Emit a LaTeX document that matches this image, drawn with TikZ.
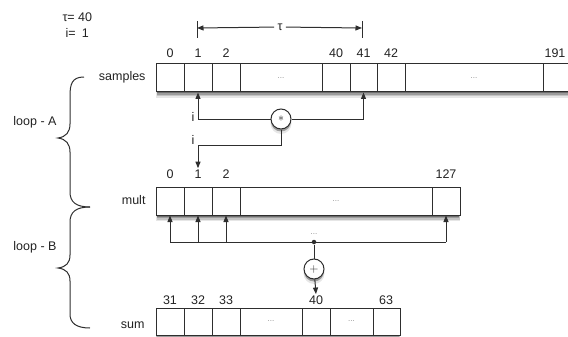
\documentclass[tikz,border=0pt]{standalone}
\usepackage{fontspec}
\setmainfont{Liberation Sans}
\usetikzlibrary{arrows.meta}
\definecolor{ln}{HTML}{2E2E2E}
\definecolor{tx}{HTML}{222222}
\definecolor{shA}{HTML}{E6E6E6}
\definecolor{shB}{HTML}{C4C4C4}
\definecolor{shC}{HTML}{9C9C9C}
\definecolor{shD}{HTML}{6E6E6E}
\newcommand\mycell[6]{\node[#5,minimum width={#3-#2}] (#1) at ({(#2+#3)/2},#4) {#6};}
\begin{document}
\begin{tikzpicture}[x=1pt,y=-1pt,line width=1pt,color=ln,text=tx,
  font=\fontsize{12.5}{15}\selectfont,
  cell/.style={draw=ln,fill=white,inner sep=0pt,minimum height=28pt,
    font=\fontsize{8}{9}\selectfont,text=black!45},
  sumcell/.style={cell,minimum height=27pt},
  idx/.style={inner sep=1pt},
  dotlbl/.style={font=\fontsize{8}{9}\selectfont,text=black!45,inner sep=0pt},
  op/.style={draw=ln,circle,fill=white,minimum size=20pt,inner sep=0pt},
  arr/.style={-{Triangle[length=6.5pt,width=5pt]}},
  brc/.style={line width=1pt,draw=ln}]
\useasboundingbox (0,0) rectangle (568,337);
% shadows (drawn first)
\path[fill=shA] (156,90) rectangle (568,98);
\path[fill=shB] (156.5,90) rectangle (568,96.5);
\path[fill=shC] (157,90) rectangle (568,95);
\path[fill=shD] (157,90) rectangle (568,93.5);
\path[fill=shA] (156,213) rectangle (460,221);
\path[fill=shB] (156.5,213) rectangle (459.5,219.5);
\path[fill=shC] (157,213) rectangle (459,218);
\path[fill=shD] (157,213) rectangle (459,216.5);
\path[fill=shB] (156,333) rectangle (400,337);
\path[fill=shC] (157,333) rectangle (399,337);
\path[fill=shA] (281,123.5) circle (10.5);
\path[fill=shC] (281,121.5) circle (10);
\path[fill=shA] (314,273.5) circle (10.5);
\path[fill=shC] (314,271.5) circle (10);
% parameters
\node[anchor=west,inner sep=0pt] (tauval) at (62,17) {τ= 40};
\node[anchor=west,inner sep=0pt] (ival) at (65,33) {i=\enspace 1};
% tau dimension
\coordinate (tl) at (197,28);
\coordinate (tr) at (362,28);
\node[fill=white,inner sep=3pt] (tau) at (280,27) {τ};
\draw[arr] (tau) -- (tl);
\draw[arr] (tau) -- (tr);
\draw (tl) ++(0,-7) -- ++(0,17);
\draw (tr) ++(0,-7) -- ++(0,17);
% samples array
\mycell{s0}{156}{184}{78}{cell}{}
\mycell{s1}{184}{212}{78}{cell}{}
\mycell{s2}{212}{240}{78}{cell}{}
\mycell{sd1}{240}{322}{78}{cell}{...}
\mycell{s40}{322}{350}{78}{cell}{}
\mycell{s41}{350}{377}{78}{cell}{}
\mycell{s42}{377}{405}{78}{cell}{}
\mycell{sd2}{405}{543}{78}{cell}{...}
\mycell{s191}{543}{569}{78}{cell}{}
\node[idx] (ls0) at (170,53) {0};
\node[idx] (ls1) at (198,53) {1};
\node[idx] (ls2) at (226,53) {2};
\node[idx] (ls40) at (336,53) {40};
\node[idx] (ls41) at (363.5,53) {41};
\node[idx] (ls42) at (391,53) {42};
\node[idx] (ls191) at (555,53) {191};
\node[anchor=east,inner sep=0pt] (nsamples) at (146,77) {samples};
% multiply
\node[op] (mul) at (281,119) {$\ast$};
\coordinate (mc) at (281,145);
\draw[arr] (mul.west) -| (s1.south);
\draw[arr] (mul.east) -| (s41.south);
\node (i1) at (193,117) {i};
\node (i2) at (193,140) {i};
% mult array
\mycell{m0}{156}{184}{201}{cell}{}
\mycell{m1}{184}{212}{201}{cell}{}
\mycell{m2}{212}{240}{201}{cell}{}
\mycell{md}{240}{432}{201}{cell}{...}
\mycell{m127}{432}{460}{201}{cell}{}
\node[idx] (lm0) at (170,174) {0};
\node[idx] (lm1) at (198,174) {1};
\node[idx] (lm2) at (226,174) {2};
\node[idx] (lm127) at (446,174) {127};
\node[anchor=east,inner sep=0pt] (nmult) at (146,200) {mult};
\draw[arr] (mul.south) -- (mc) -| (lm1.north);
% sum feed
\node[circle,fill=ln,inner sep=0pt,minimum size=4.5pt] (jn) at (314,242) {};
\node[dotlbl] (jdots) at (314,234) {...};
\draw (m0.south |- jn) -- (m127.south |- jn);
\draw[arr] (m0.south |- jn) -- (m0.south);
\draw[arr] (m1.south |- jn) -- (m1.south);
\draw[arr] (m2.south |- jn) -- (m2.south);
\draw[arr] (m127.south |- jn) -- (m127.south);
\node[op] (plus) at (314,269) {$+$};
\draw (jn) -- (plus);
% sum array
\mycell{u31}{156}{184}{321.5}{sumcell}{}
\mycell{u32}{184}{212}{321.5}{sumcell}{}
\mycell{u33}{212}{240}{321.5}{sumcell}{}
\mycell{ud1}{240}{302}{321.5}{sumcell}{...}
\mycell{u40}{302}{330}{321.5}{sumcell}{}
\mycell{ud2}{330}{373}{321.5}{sumcell}{...}
\mycell{u63}{373}{400}{321.5}{sumcell}{}
\node[idx] (lu31) at (170,300) {31};
\node[idx] (lu32) at (198,300) {32};
\node[idx] (lu33) at (226,300) {33};
\node[idx] (lu40) at (316,300) {40};
\node[idx] (lu63) at (386,300) {63};
\node[anchor=east,inner sep=0pt] (nsum) at (145,325) {sum};
\draw[arr] (plus) -- (lu40.north);
% braces
\draw[brc] (84,77) .. controls (72,77) and (70,84) .. (70,96) -- (70,124)
  .. controls (70,132) and (66,137) .. (58,138)
  .. controls (66,139) and (70,144) .. (70,152) -- (70,192)
  .. controls (70,202) and (76,207) .. (90,207);
\draw[brc] (90,207) .. controls (76,207) and (70,212) .. (70,222) -- (70,255)
  .. controls (70,263) and (66,267) .. (58,268)
  .. controls (66,269) and (70,273) .. (70,281) -- (70,314)
  .. controls (70,323) and (76,328) .. (90,328);
\node (loopA) at (35,122) {loop - A};
\node (loopB) at (35,247) {loop - B};
\end{tikzpicture}
\end{document}
